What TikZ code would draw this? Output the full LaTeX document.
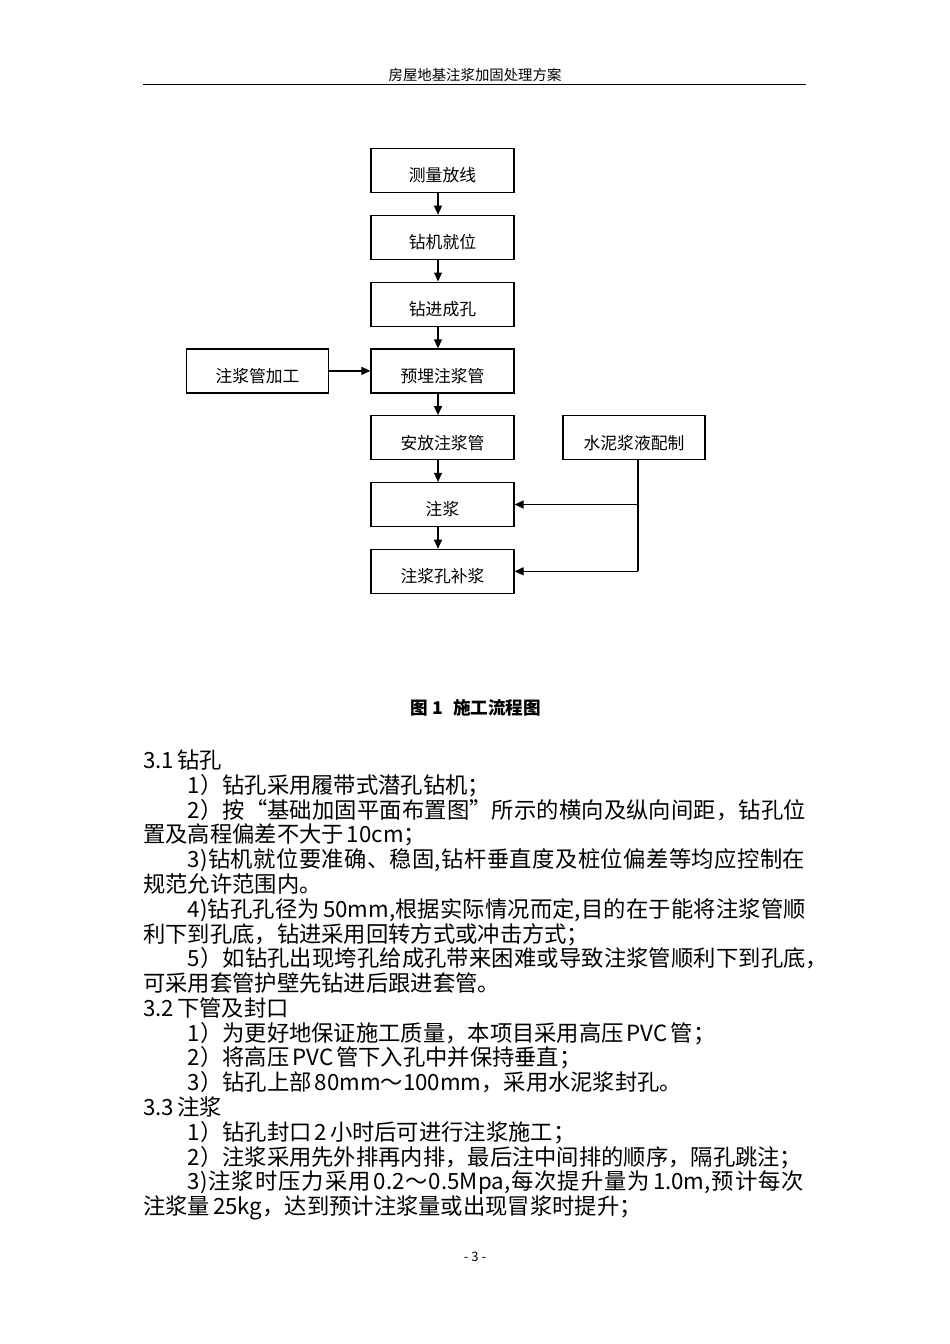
\documentclass[tikz,border=0pt]{standalone}
\usepackage{fontspec}
\setmainfont{Noto Sans CJK SC}
\usetikzlibrary{arrows.meta}
\newcommand\jline[1]{{\XeTeXlinebreaklocale "zh"\XeTeXlinebreakskip=0pt plus 20pt\parfillskip=0pt\relax\noindent #1\par}}
\newcommand\cgap{\hspace{3pt}}
\begin{document}
\begin{tikzpicture}[x=1pt,y=-1pt,
  box/.style={draw, line width=1.2pt, minimum width=143pt, minimum height=44pt, inner sep=0pt, text height=22.8pt, text depth=0pt, font=\fontsize{16.8}{18}\selectfont},
  arr/.style={line width=1.2pt, -{Triangle[length=9pt,width=8pt]}},
  ln/.style={line width=1.2pt},
  body/.style={anchor=base west, inner sep=0pt, font=\fontsize{22.3}{24.8}\selectfont},
  jbody/.style={body, text width=618.4pt}]
\useasboundingbox (0,0) rectangle (950,1344);
% header
\node[inner sep=0pt, font=\fontsize{14.4}{16}\selectfont] (head) at (475,74.5) {房屋地基注浆加固处理方案};
\coordinate (hl) at (143,84.5);
\coordinate (hr) at (806,84.5);
\draw[line width=1.5pt] (hl) -- (hr);
% flowchart
\node[box] (b1) at (442.5,170.5) {测量放线};
\node[box] (b2) at (442.5,237.3) {钻机就位};
\node[box] (b3) at (442.5,304.1) {钻进成孔};
\node[box] (b4) at (442.5,370.9) {预埋注浆管};
\node[box] (b5) at (442.5,437.7) {安放注浆管};
\node[box] (b6) at (442.5,504.5) {注浆};
\node[box] (b7) at (442.5,571.3) {注浆孔补浆};
\node[box, minimum width=142pt] (lb) at (257.5,370.9) {注浆管加工};
\node[box, minimum width=142pt] (rb) at (634,437.7) {水泥浆液配制};
\foreach \a/\b in {b1/b2,b2/b3,b3/b4,b4/b5,b5/b6,b6/b7}
  \draw[arr] ([xshift=-4.5pt]\a.south) -- ([xshift=-4.5pt]\b.north);
\draw[arr] (lb.east) -- (b4.west);
\coordinate (rs) at ([xshift=4pt]rb.south);
\draw[ln] (rs) -- (rs |- b7.east);
\draw[arr] (rs |- b7.east) -- (b7.east);
\draw[arr] (rs |- b6.east) -- (b6.east);
% caption
\node[inner sep=0pt, font=\fontsize{17.6}{19}\selectfont\bfseries] (cap) at (476,708) {图\hspace{4pt}1\hspace{10pt}施工流程图};
% body text
\node[body] (l0) at (143,768.5) {3.1\cgap 钻孔};
\node[body] (l1) at (187.6,793.3) {1）钻孔采用履带式潜孔钻机；};
\node[jbody] (l2) at (187.6,818.1) {\jline{2）按“基础加固平面布置图”所示的横向及纵向间距，钻孔位}};
\node[body] (l3) at (143,842.8) {置及高程偏差不大于\cgap 10cm；};
\node[jbody] (l4) at (187.6,867.6) {\jline{3)钻机就位要准确、稳固,钻杆垂直度及桩位偏差等均应控制在}};
\node[body] (l5) at (143,892.4) {规范允许范围内。};
\node[jbody] (l6) at (187.6,917.2) {\jline{4)钻孔孔径为\cgap 50mm,根据实际情况而定,目的在于能将注浆管顺}};
\node[body] (l7) at (143,942.0) {利下到孔底，钻进采用回转方式或冲击方式；};
\node[jbody] (l8) at (187.6,966.7) {\jline{5）如钻孔出现垮孔给成孔带来困难或导致注浆管顺利下到孔底\rlap{，}}};
\node[body] (l9) at (143,991.5) {可采用套管护壁先钻进后跟进套管。};
\node[body] (l10) at (143,1016.3) {3.2\cgap 下管及封口};
\node[body] (l11) at (187.6,1041.1) {1）为更好地保证施工质量，本项目采用高压\cgap PVC\cgap 管；};
\node[body] (l12) at (187.6,1065.9) {2）将高压\cgap PVC\cgap 管下入孔中并保持垂直；};
\node[body] (l13) at (187.6,1090.6) {3）钻孔上部\cgap 80mm～100mm，采用水泥浆封孔。};
\node[body] (l14) at (143,1115.4) {3.3\cgap 注浆};
\node[body] (l15) at (187.6,1140.2) {1）钻孔封口\cgap 2\cgap 小时后可进行注浆施工；};
\node[body] (l16) at (187.6,1165.0) {2）注浆采用先外排再内排，最后注中间排的顺序，隔孔跳注；};
\node[jbody] (l17) at (187.6,1189.8) {\jline{3)注浆时压力采用\cgap 0.2～0.5Mpa,每次提升量为\cgap 1.0m,预计每次}};
\node[body] (l18) at (143,1214.5) {注浆量\cgap 25kg，达到预计注浆量或出现冒浆时提升；};
% page number
\node[inner sep=0pt, font=\fontsize{13}{14}\selectfont] (pg) at (475,1257) {- 3 -};
\end{tikzpicture}
\end{document}
